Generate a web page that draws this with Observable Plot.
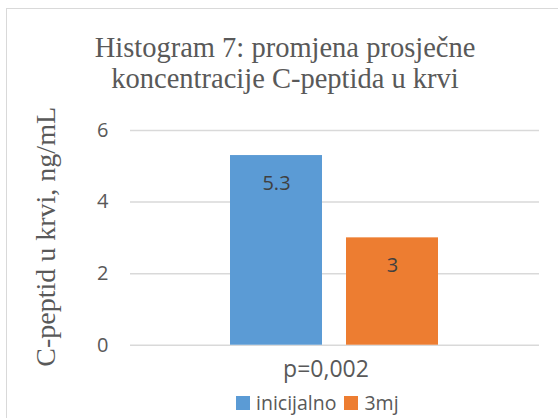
<!DOCTYPE html>
<html>
<head>
<meta charset="utf-8">
<script src="https://cdn.jsdelivr.net/npm/d3@7"></script>
<script src="https://cdn.jsdelivr.net/npm/@observablehq/plot@0.6"></script>
<style>
  html, body { margin: 0; padding: 0; background: #fff; }
  #wrap { position: relative; width: 558px; height: 418px; overflow: hidden; background: #fff; }
  #frame { position: absolute; left: 6px; top: 8px; width: 600px; height: 500px;
           border-left: 1.5px solid #d9d9d9; border-top: 1.5px solid #d9d9d9; }
  #title { position: absolute; left: 0; top: 32px; width: 570px; text-align: center;
           font-family: "Liberation Serif", "Times New Roman", serif; font-size: 28.5px;
           line-height: 31px; color: #595959; }
  #chart { position: absolute; left: 0; top: 0; }
  #legend { position: absolute; left: 236px; top: 390px; display: flex; align-items: center;
            font-family: "Open Sans", sans-serif; font-size: 19.5px; color: #595959; line-height: 26px; }
  #legend .sw { width: 14px; height: 14px; display: inline-block; margin-right: 6px; }
  #legend .item { display: flex; align-items: center; margin-right: 8px; }
</style>
</head>
<body>
<div id="wrap">
  <div id="frame"></div>
  <div id="chart"></div>
  <div id="title"></div>
  <div id="legend"></div>
</div>
<script>
const titleLines = ["Histogram 7: promjena prosječne", "koncentracije C-peptida u krvi"];
const yLabel = "C-peptid u krvi, ng/mL";
const groups = ["p=0,002"];
const series = ["inicijalno", "3mj"];
const values = [5.3, 3];
const yTicks = [0, 2, 4, 6];
const colors = ["#5B9BD5", "#ED7D31"];

const data = series.map((s, i) => ({group: groups[0], series: s, value: values[i]}));

document.getElementById("title").innerHTML = titleLines.join("<br>");

const chart = Plot.plot({
  width: 558,
  height: 418,
  marginTop: 130,
  marginBottom: 73.3,
  marginLeft: 130,
  marginRight: 19,
  style: {fontFamily: "Open Sans, sans-serif", fontSize: "20px", color: "#595959", background: "transparent"},
  fx: {domain: groups, padding: 0, label: null},
  x: {domain: series, paddingInner: 0.206, paddingOuter: 0.858, axis: null},
  y: {domain: [0, 6], label: null},
  color: {domain: series, range: colors},
  marks: [
    Plot.gridY(yTicks, {stroke: "#d9d9d9", strokeOpacity: 1, strokeWidth: 1.5}),
    Plot.axisY({ticks: yTicks, tickFormat: d3.format("d"), tickSize: 0, tickPadding: 22, label: null, fontSize: 20, fill: "#595959"}),
    Plot.axisFx({anchor: "bottom", tickSize: 0, tickPadding: 15, label: null, fontSize: 23, fill: "#595959", dx: -9}),
    Plot.barY(data, {fx: "group", x: "series", y: "value", fill: "series"}),
    Plot.text(data, {fx: "group", x: "series", y: "value", text: d => String(d.value), dy: 28,
                     fill: "#404040", fontSize: 20}),
    Plot.text([yLabel], {frameAnchor: "left", text: d => d, rotate: -90, textAnchor: "middle", dx: -84, dy: -1,
                         fontFamily: "Liberation Serif", fontSize: 28, fill: "#595959"})
  ]
});
document.getElementById("chart").appendChild(chart);

const legend = document.getElementById("legend");
series.forEach((s, i) => {
  const item = document.createElement("span");
  item.className = "item";
  const sw = document.createElement("span");
  sw.className = "sw";
  sw.style.background = colors[i];
  item.appendChild(sw);
  item.appendChild(document.createTextNode(s));
  legend.appendChild(item);
});
</script>
</body>
</html>
